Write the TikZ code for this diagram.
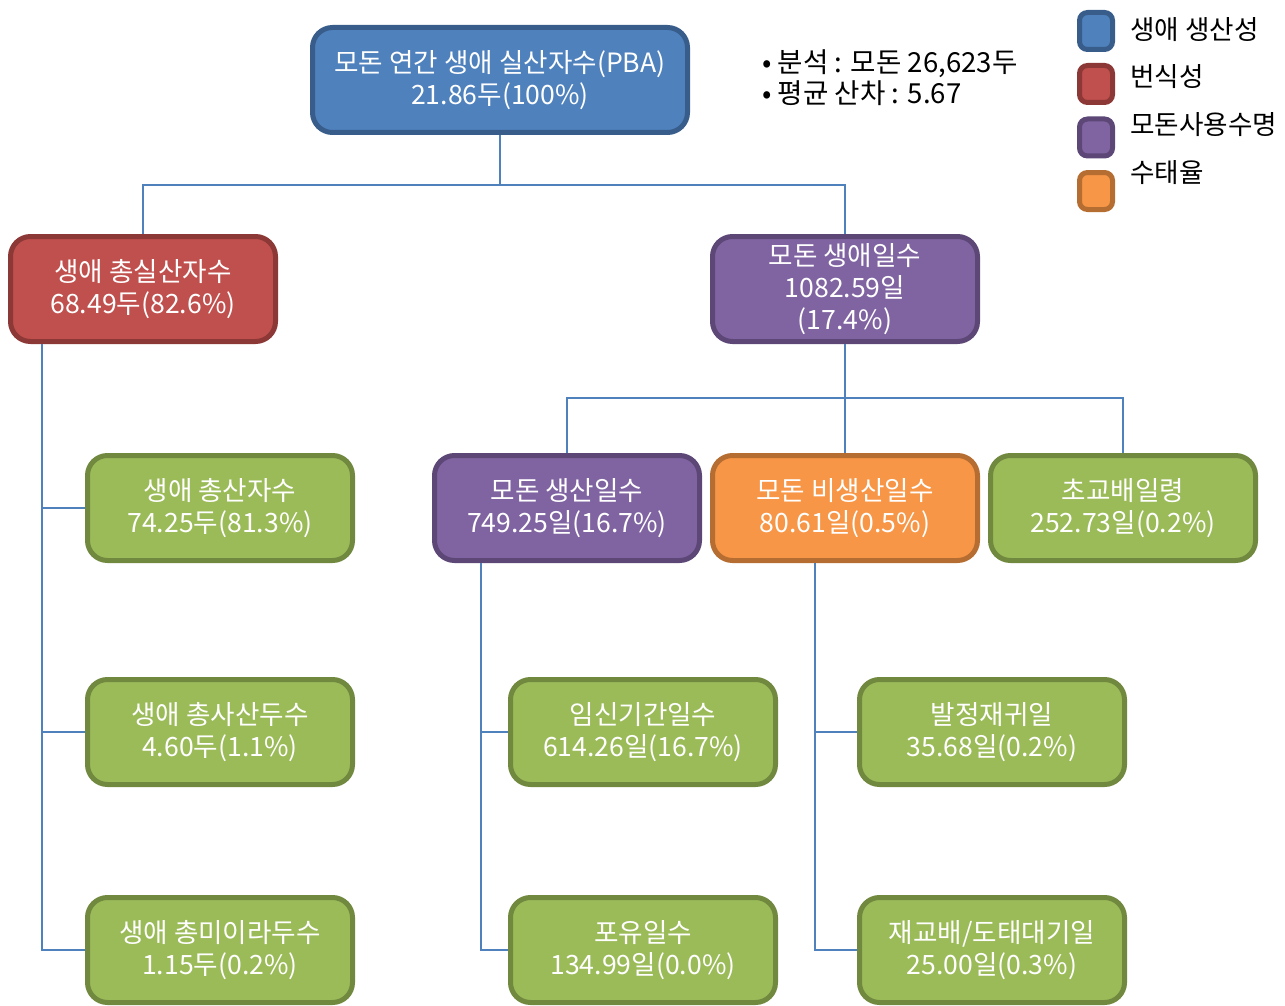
\documentclass[tikz,border=0pt]{standalone}
\usepackage{fontspec}
\setmainfont{Noto Sans CJK KR}
\usetikzlibrary{positioning,calc}
\definecolor{cblue}{HTML}{4F81BD}
\definecolor{cblueD}{HTML}{385D8A}
\definecolor{cred}{HTML}{C0504D}
\definecolor{credD}{HTML}{8C3836}
\definecolor{cpurp}{HTML}{8064A2}
\definecolor{cpurpD}{HTML}{5C4776}
\definecolor{corng}{HTML}{F79646}
\definecolor{corngD}{HTML}{B66D31}
\definecolor{cgrn}{HTML}{9BBB59}
\definecolor{cgrnD}{HTML}{71893F}
\tikzset{
  kbox/.style={draw, rounded corners=10pt, align=center, inner sep=0pt,
               line width=2.5pt, minimum width=132.5pt, minimum height=52.5pt,
               text=white, font=\fontsize{13.3}{16}\selectfont},
  nblue/.style={kbox, fill=cblue, draw=cblueD},
  nred/.style={kbox, fill=cred, draw=credD},
  npurp/.style={kbox, fill=cpurp, draw=cpurpD},
  norng/.style={kbox, fill=corng, draw=corngD},
  ngrn/.style={kbox, fill=cgrn, draw=cgrnD},
  lgd/.style={draw, rounded corners=4pt, line width=2.5pt,
              minimum width=16.5pt, minimum height=18.5pt, inner sep=0pt},
  ltxt/.style={anchor=west, inner sep=0pt, align=left,
               font=\fontsize{13.3}{15.5}\selectfont},
  link/.style={draw=cblue, line width=1pt},
}
\begin{document}
\begin{tikzpicture}[x=0.5pt, y=-0.5pt]
  \useasboundingbox (0,0) rectangle (1285,1006);
  % top level
  \node[nblue, minimum width=187.5pt] (pba) at (500,80) {모돈 연간 생애 실산자수(PBA)\\21.86두(100\%)};
  \node[nred] (birth) at (143,289) {생애 총실산자수\\68.49두(82.6\%)};
  \node[npurp] (life) at (845,289) {모돈 생애일수\\1082.59일\\(17.4\%)};
  % left column
  \node[ngrn] (tot) at (220,508) {생애 총산자수\\74.25두(81.3\%)};
  \node[ngrn] (dead) at (220,732) {생애 총사산두수\\4.60두(1.1\%)};
  \node[ngrn] (mummy) at (220,950) {생애 총미이라두수\\1.15두(0.2\%)};
  % days
  \node[npurp] (prod) at (567,508) {모돈 생산일수\\749.25일(16.7\%)};
  \node[norng] (nprod) at (845,508) {모돈 비생산일수\\80.61일(0.5\%)};
  \node[ngrn] (first) at (1123,508) {초교배일령\\252.73일(0.2\%)};
  \node[ngrn] (gest) at (643,732) {임신기간일수\\614.26일(16.7\%)};
  \node[ngrn] (lact) at (643,950) {포유일수\\134.99일(0.0\%)};
  \node[ngrn] (wean) at (992,732) {발정재귀일\\35.68일(0.2\%)};
  \node[ngrn] (rebr) at (992,950) {재교배/도태대기일\\25.00일(0.3\%)};
  % info + legend
  \node[ltxt, font=\fontsize{13.8}{15.5}\selectfont] (info) at (762,78) {• 분석 : 모돈 26,623두\\• 평균 산차 : 5.67};
  \node[lgd, fill=cblue, draw=cblueD] (k1) at (1096,31) {};
  \node[lgd, fill=cred, draw=credD] (k2) at (1096,84) {};
  \node[lgd, fill=cpurp, draw=cpurpD] (k3) at (1096,137.5) {};
  \node[lgd, fill=corng, draw=corngD] (k4) at (1096,191) {};
  \node[ltxt] (t1) at (1130,30) {생애 생산성};
  \node[ltxt] (t2) at (1130,77) {번식성};
  \node[ltxt] (t3) at (1130,125) {모돈사용수명};
  \node[ltxt] (t4) at (1130,173) {수태율};
  % connectors
  \foreach \q in {birth,life} \draw[link] (pba.south) -- ++(0,50) -| (\q.north);
  \foreach \q in {prod,nprod,first} \draw[link] (life.south) -- ++(0,54) -| (\q.north);
  \foreach \q in {tot,dead,mummy} \draw[link] ([xshift=-50.5pt]birth.south) |- (\q.west);
  \foreach \q in {gest,lact} \draw[link] ([xshift=-43pt]prod.south) |- (\q.west);
  \foreach \q in {wean,rebr} \draw[link] ([xshift=-15pt]nprod.south) |- (\q.west);
\end{tikzpicture}
\end{document}
